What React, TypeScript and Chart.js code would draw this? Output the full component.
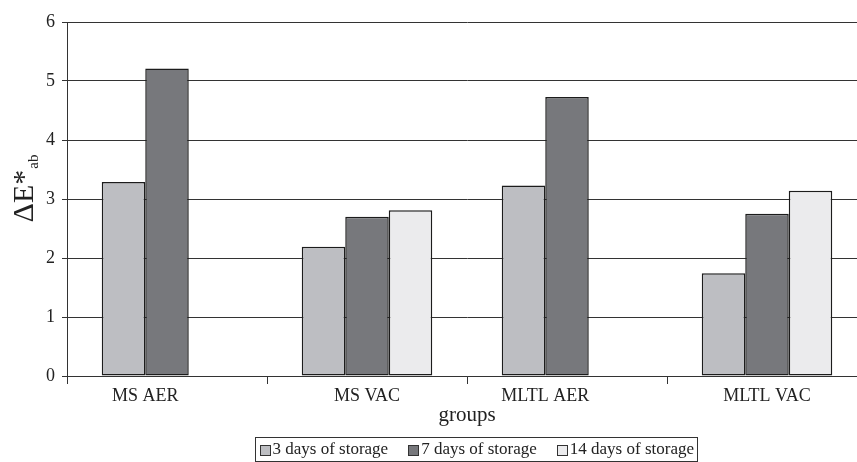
import React, { useEffect, useRef } from 'react';
import { Chart, registerables } from 'chart.js';

Chart.register(...registerables);

const categories = ['MS AER', 'MS VAC', 'MLTL AER', 'MLTL VAC'];
const seriesLabels = ['3 days of storage', '7 days of storage', '14 days of storage'];
const days3 = [3.29, 2.19, 3.23, 1.74];
const days7 = [5.21, 2.7, 4.73, 2.75];
const days14 = [null, 2.81, null, 3.14];
const yMin = 0;
const yMax = 6;
const yStep = 1;
const xTitle = 'groups';
const yTitleMain = 'ΔE*';
const yTitleSub = 'ab';

const seriesColors = ['#bdbec2', '#77787c', '#ebebed'];
const SERIF = '"Liberation Serif", "Times New Roman", Times, serif';
const INK = '#222222';
const LINE = '#333333';

const extrasPlugin = {
  id: 'extras',
  afterDraw(chart: any) {
    const { ctx, chartArea } = chart;

    // Category labels, centred under the bars that are drawn in each group
    ctx.save();
    ctx.font = `18px ${SERIF}`;
    ctx.fillStyle = INK;
    ctx.textAlign = 'center';
    ctx.textBaseline = 'middle';
    const labels = chart.data.labels as string[];
    labels.forEach((lab, j) => {
      let minX = Infinity;
      let maxX = -Infinity;
      chart.data.datasets.forEach((d: any, i: number) => {
        const v = d.data[j];
        if (v === null || v === undefined) return;
        const el: any = chart.getDatasetMeta(i).data[j];
        if (!el) return;
        minX = Math.min(minX, el.x - el.width / 2);
        maxX = Math.max(maxX, el.x + el.width / 2);
      });
      const x = isFinite(minX) ? (minX + maxX) / 2 : chart.scales.x.getPixelForValue(j);
      ctx.fillText(lab, x, chartArea.bottom + 20);
    });
    ctx.restore();

    // Y axis title with subscript
    ctx.save();
    ctx.translate(33, (chartArea.top + chartArea.bottom) / 2 - 10);
    ctx.rotate(-Math.PI / 2);
    ctx.fillStyle = INK;
    ctx.textBaseline = 'alphabetic';
    ctx.textAlign = 'left';
    ctx.font = `30px ${SERIF}`;
    const mw = ctx.measureText(yTitleMain).width;
    ctx.font = `15px ${SERIF}`;
    const sw = ctx.measureText(yTitleSub).width;
    const total = mw + sw;
    ctx.font = `30px ${SERIF}`;
    ctx.fillText(yTitleMain, -total / 2, 0);
    ctx.font = `15px ${SERIF}`;
    ctx.fillText(yTitleSub, -total / 2 + mw + 1, 5);
    ctx.restore();

    // Legend with frame
    ctx.save();
    const fontSize = 17;
    ctx.font = `${fontSize}px ${SERIF}`;
    const box = 11;
    const boxGap = 2;
    const itemGap = 20;
    const pad = 4;
    const ds = chart.data.datasets;
    const widths = ds.map((d: any) => box + boxGap + ctx.measureText(d.label).width);
    const inner = widths.reduce((a: number, b: number) => a + b, 0) + itemGap * (ds.length - 1);
    const frameW = inner + pad * 2;
    const cx = (chartArea.left + chartArea.right) / 2 + 9;
    const frameTop = chart.height - 25;
    const frameBottom = chart.height - 1;
    const frameLeft = Math.round(cx - frameW / 2) + 0.5;
    ctx.strokeStyle = LINE;
    ctx.lineWidth = 1;
    ctx.strokeRect(frameLeft, frameTop + 0.5, Math.round(frameW), frameBottom - frameTop);
    const midY = (frameTop + frameBottom) / 2 + 1;
    let x = frameLeft + pad;
    ds.forEach((d: any, i: number) => {
      const bx = Math.round(x) + 0.5;
      const by = Math.round(midY - box / 2) + 0.5;
      ctx.fillStyle = d.backgroundColor;
      ctx.fillRect(bx, by, box - 1, box - 1);
      ctx.strokeStyle = LINE;
      ctx.strokeRect(bx, by, box - 1, box - 1);
      ctx.fillStyle = INK;
      ctx.textBaseline = 'middle';
      ctx.textAlign = 'left';
      ctx.fillText(d.label, x + box + boxGap, midY);
      x += widths[i] + itemGap;
    });
    ctx.restore();
  },
};

export default function App() {
  const ref = useRef<HTMLCanvasElement | null>(null);

  useEffect(() => {
    if (!ref.current) return;
    const series = [days3, days7, days14];
    const chart = new Chart(ref.current, {
      type: 'bar',
      data: {
        labels: categories,
        datasets: series.map((values, i) => ({
          label: seriesLabels[i],
          data: values,
          backgroundColor: seriesColors[i],
          borderColor: '#1c1c1c',
          borderWidth: 1.5,
          borderSkipped: false,
          categoryPercentage: 0.6525,
          barPercentage: 1,
        })),
      },
      options: {
        responsive: false,
        animation: false,
        devicePixelRatio: 1,
        layout: { padding: { left: 0, right: 13, top: 22, bottom: 0 } },
        plugins: {
          legend: { display: false },
          tooltip: { enabled: false },
          title: { display: false },
        },
        scales: {
          x: {
            offset: true,
            grid: {
              display: true,
              drawOnChartArea: false,
              drawTicks: true,
              tickLength: 8,
              color: LINE,
              offset: true,
            },
            border: { display: true, color: LINE, width: 1 },
            ticks: {
              display: false,
              autoSkip: false,
            },
            title: {
              display: true,
              text: xTitle,
              color: INK,
              font: { family: SERIF, size: 21 },
              padding: { top: 0, bottom: 34 },
            },
            afterFit(scale: any) {
              scale.height = 86;
            },
          },
          y: {
            min: yMin,
            max: yMax,
            grid: { color: LINE, tickLength: 5, lineWidth: 1 },
            border: { display: true, color: LINE, width: 1 },
            ticks: {
              stepSize: yStep,
              color: INK,
              font: { family: SERIF, size: 18 },
              padding: 7,
            },
            afterFit(scale: any) {
              scale.width = 67;
            },
          },
        },
      },
      plugins: [extrasPlugin],
    });
    return () => chart.destroy();
  }, []);

  return (
    <div
      style={{
        position: 'fixed',
        left: 0,
        top: 0,
        width: 857,
        height: 462,
        overflow: 'hidden',
        background: '#ffffff',
      }}
    >
      <canvas ref={ref} width={880} height={462} style={{ display: 'block' }} />
    </div>
  );
}
